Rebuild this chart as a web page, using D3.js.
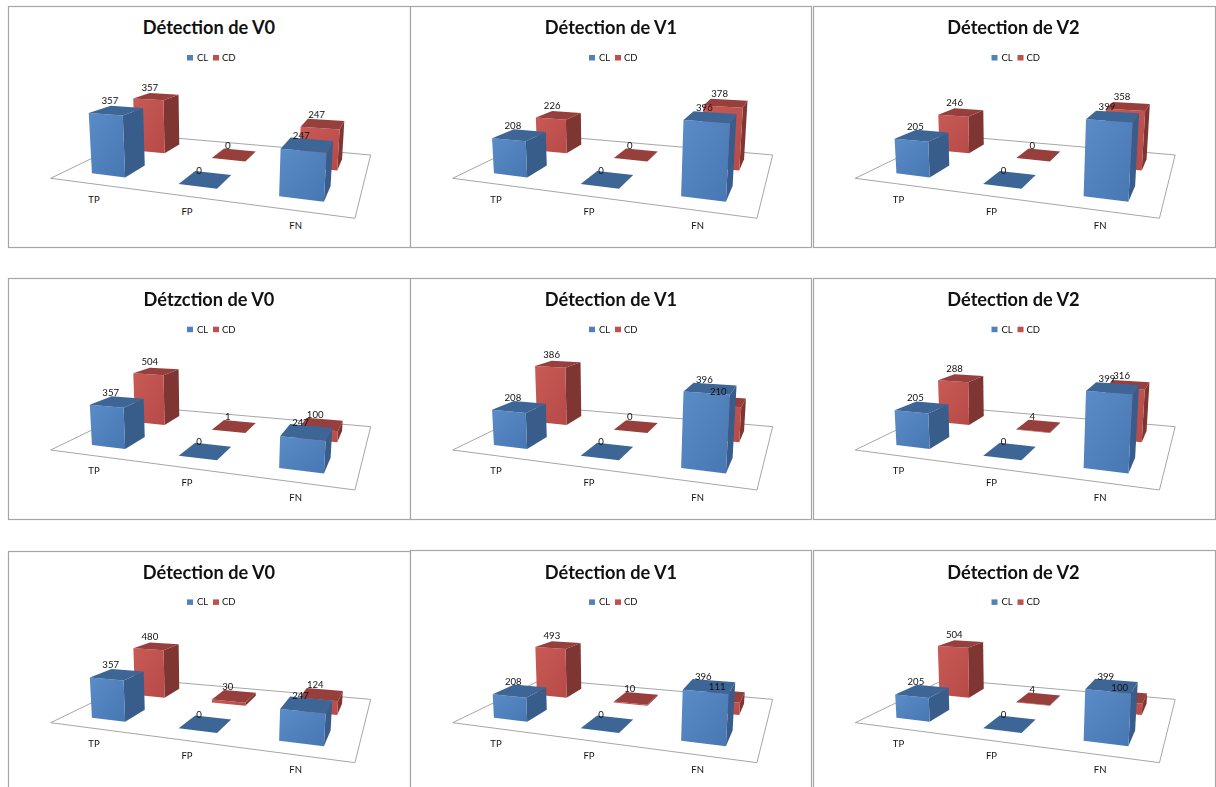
<!DOCTYPE html>
<html><head><meta charset="utf-8">
<script src="https://cdn.jsdelivr.net/npm/d3@7"></script>
<style>html,body{margin:0;padding:0;background:#fff;overflow:hidden}svg{display:block;filter:blur(.45px)}text{font-family:Lato,"Open Sans",sans-serif;fill:#111}</style>
</head><body><svg id="c" width="1216" height="787"></svg>
<script>
const categories = ["TP","FP","FN"];
const seriesNames = ["CL","CD"];
const titles = ["Détection de V0","Détection de V1","Détection de V2",
                "Détzction de V0","Détection de V1","Détection de V2",
                "Détection de V0","Détection de V1","Détection de V2"];
const clValues = [[357,0,247],[208,0,396],[205,0,399],
                  [357,0,247],[208,0,396],[205,0,399],
                  [357,0,247],[208,0,396],[205,0,399]];
const cdValues = [[357,0,247],[226,0,378],[246,0,358],
                  [504,1,100],[386,0,210],[288,4,316],
                  [480,30,124],[493,10,111],[504,4,100]];
const axisMax = [400,400,400, 600,400,400, 600,600,600];
const panelX = [8,410,813];
const panelW = [402,401,402];
const panelY = [[6,6,6],[278,278,278],[551,550,550]];
const contentDx = [0,402,804.5];
const contentDy = [0,271.7,544.4];

const palette = {
  CL:{front:"#4f81bd",side:"#385d8a",top:"#3d6696"},
  CD:{front:"#c0504d",side:"#7f3633",top:"#973f3c"}
};
const svg = d3.select("#c");
const defs = svg.append("defs");
[["CL","#5a8cc8","#4777b2"],["CD","#c95a56","#b64a47"]].forEach(([n,a,b])=>{
  const g=defs.append("linearGradient").attr("id","g"+n).attr("x1",0).attr("x2",1).attr("y1",0).attr("y2",1);
  g.append("stop").attr("offset",0).attr("stop-color",a);
  g.append("stop").attr("offset",1).attr("stop-color",b);
});

const H={a:229.5,b:136,c:50.7,d:-6,e:1.7,f:178.3,g:-0.2106,h:0.3334};
const floor=(u,v)=>{const w=H.g*u+H.h*v+1;return [(H.a*u+H.b*v+H.c)/w,(H.d*u+H.e*v+H.f)/w];};
const uScale=d3.scaleBand().domain(categories).range([.004,1.004]).paddingInner(.6).paddingOuter(.3);
const vScale=d3.scaleBand().domain(seriesNames).range([0,1]).paddingInner(.54).paddingOuter(.3);
const fullH=d3.scaleLinear().domain([150,196]).range([58,77]);
const lean=4.5e-4, vanishX=210;

function lift(p,val,max){
  const h=fullH(p[1])*d3.scaleLinear().domain([0,max]).range([0,1])(val);
  return [p[0]+lean*(p[0]-vanishX)*h,p[1]-h];
}
const poly=a=>a.map(p=>p.map(n=>n.toFixed(2)).join(",")).join(" ");

titles.forEach((title,i)=>{
  const col=i%3,row=Math.floor(i/3);
  svg.append("rect").attr("x",panelX[col]+.5).attr("y",panelY[row][col]+.5)
    .attr("width",panelW[col]).attr("height",241)
    .attr("fill","#fff").attr("stroke","#a6a6a6").attr("stroke-width",1.2);
});
titles.forEach((title,i)=>{
  const col=i%3,row=Math.floor(i/3);
  const g=svg.append("g").attr("transform",`translate(${contentDx[col]},${contentDy[row]})`);
  g.append("text").attr("x",209).attr("y",28).attr("dy",".35em").attr("text-anchor","middle")
    .attr("font-weight",700).attr("font-size",18.2).text(title);
  [[187,197,"CL"],[213,222,"CD"]].forEach(([sx,tx,n])=>{
    g.append("rect").attr("x",sx).attr("y",55).attr("width",6).attr("height",5.5).attr("fill",palette[n].front);
    g.append("text").attr("x",tx).attr("y",57.7).attr("dy",".35em").attr("font-size",9.5).attr("fill","#333").text(n);
  });
  g.append("polygon").attr("points",poly([floor(0,0),floor(1,0),floor(1,1),floor(0,1)]))
    .attr("fill","none").attr("stroke","#a6a6a6").attr("stroke-width",1);
  categories.forEach(c=>{
    const p=floor(uScale(c)+uScale.bandwidth()/2,0);
    g.append("text").attr("x",p[0]+.8).attr("y",p[1]+15.3).attr("dy",".35em")
      .attr("text-anchor","middle").attr("font-size",9.5).attr("fill","#222").text(c);
  });
  const labels=[];
  ["CD","CL"].forEach(s=>{
    const vals=s==="CL"?clValues[i]:cdValues[i];
    categories.forEach((c,k)=>{
      const u0=uScale(c),u1=u0+uScale.bandwidth(),v0=vScale(s),v1=v0+vScale.bandwidth();
      const fl=floor(u0,v0),fr=floor(u1,v0),br=floor(u1,v1),bl=floor(u0,v1);
      const m=axisMax[i],val=vals[k];
      const tfl=lift(fl,val,m),tfr=lift(fr,val,m),tbr=lift(br,val,m),tbl=lift(bl,val,m);
      const col=palette[s];
      g.append("polygon").attr("points",poly([fr,br,tbr,tfr])).attr("fill",col.side);
      g.append("polygon").attr("points",poly([fl,fr,tfr,tfl])).attr("fill","url(#g"+s+")");
      g.append("polygon").attr("points",poly([tfl,tfr,tbr,tbl])).attr("fill",col.top);
      labels.push([(tfl[0]+tfr[0]+tbr[0]+tbl[0])/4-6.5,(tfl[1]+tfr[1]+tbr[1]+tbl[1])/4-9.5,val]);
    });
  });
  labels.forEach(l=>g.append("text").attr("x",l[0]).attr("y",l[1]).attr("dy",".35em")
    .attr("text-anchor","middle").attr("font-size",9.6).attr("fill","#111").text(l[2]));
});
</script></body></html>
